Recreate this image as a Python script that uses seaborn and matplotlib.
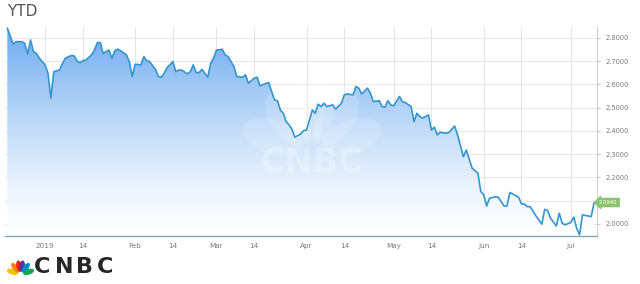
import numpy as np
import pandas as pd
import matplotlib
matplotlib.use("Agg")
import matplotlib.pyplot as plt
import matplotlib.dates as mdates
from matplotlib.patches import Ellipse
import seaborn as sns

# ---- data ----
dates = [
    "2018-12-19", "2018-12-21", "2018-12-22", "2018-12-24", "2018-12-25", "2018-12-26",
    "2018-12-27", "2018-12-28", "2018-12-29", "2018-12-30",
    "2019-01-01", "2019-01-02", "2019-01-03", "2019-01-04", "2019-01-06", "2019-01-07",
    "2019-01-08", "2019-01-10", "2019-01-11", "2019-01-12", "2019-01-13", "2019-01-14",
    "2019-01-15", "2019-01-17", "2019-01-18", "2019-01-19", "2019-01-20", "2019-01-21",
    "2019-01-23", "2019-01-24", "2019-01-25", "2019-01-26", "2019-01-27", "2019-01-29",
    "2019-01-30", "2019-01-31",
    "2019-02-01", "2019-02-03", "2019-02-04", "2019-02-05", "2019-02-06", "2019-02-08",
    "2019-02-09", "2019-02-10", "2019-02-11", "2019-02-12", "2019-02-14", "2019-02-15",
    "2019-02-16", "2019-02-17", "2019-02-19", "2019-02-20", "2019-02-21", "2019-02-22",
    "2019-02-23", "2019-02-24", "2019-02-26", "2019-02-27", "2019-02-28",
    "2019-03-01", "2019-03-03", "2019-03-04", "2019-03-05", "2019-03-07", "2019-03-08",
    "2019-03-10", "2019-03-11", "2019-03-12", "2019-03-14", "2019-03-15", "2019-03-16",
    "2019-03-18", "2019-03-19", "2019-03-20", "2019-03-21", "2019-03-22", "2019-03-23",
    "2019-03-24", "2019-03-25", "2019-03-26", "2019-03-27", "2019-03-28", "2019-03-30",
    "2019-03-31",
    "2019-04-01", "2019-04-02", "2019-04-03", "2019-04-04", "2019-04-05", "2019-04-06",
    "2019-04-07", "2019-04-08", "2019-04-10", "2019-04-11", "2019-04-13", "2019-04-14",
    "2019-04-15", "2019-04-17", "2019-04-18", "2019-04-19", "2019-04-20", "2019-04-22",
    "2019-04-23", "2019-04-24", "2019-04-26", "2019-04-27", "2019-04-28", "2019-04-29",
    "2019-04-30",
    "2019-05-01", "2019-05-03", "2019-05-04", "2019-05-05", "2019-05-07", "2019-05-08",
    "2019-05-09", "2019-05-10", "2019-05-11", "2019-05-13", "2019-05-14", "2019-05-15",
    "2019-05-16", "2019-05-17", "2019-05-19", "2019-05-20", "2019-05-22", "2019-05-23",
    "2019-05-25", "2019-05-26", "2019-05-28", "2019-05-30", "2019-05-31",
    "2019-06-01", "2019-06-02", "2019-06-03", "2019-06-05", "2019-06-06", "2019-06-08",
    "2019-06-09", "2019-06-10", "2019-06-11", "2019-06-13", "2019-06-14", "2019-06-15",
    "2019-06-16", "2019-06-17", "2019-06-19", "2019-06-21", "2019-06-22", "2019-06-23",
    "2019-06-24", "2019-06-26", "2019-06-27", "2019-06-28", "2019-06-29",
    "2019-07-01", "2019-07-02", "2019-07-03", "2019-07-04", "2019-07-05", "2019-07-07",
    "2019-07-08", "2019-07-09",
]
values = [
    2.842, 2.774, 2.784, 2.784, 2.777, 2.731,
    2.791, 2.741, 2.734, 2.713,
    2.684, 2.648, 2.541, 2.655, 2.662, 2.691,
    2.713, 2.724, 2.723, 2.701, 2.694, 2.702,
    2.705, 2.727, 2.748, 2.780, 2.780, 2.734,
    2.748, 2.712, 2.745, 2.752, 2.745, 2.727,
    2.698, 2.634,
    2.687, 2.684, 2.720, 2.702, 2.698, 2.665,
    2.634, 2.631, 2.648, 2.672, 2.698, 2.655,
    2.662, 2.662, 2.645, 2.655, 2.684, 2.651,
    2.651, 2.665, 2.631, 2.691, 2.713,
    2.748, 2.751, 2.727, 2.720, 2.677, 2.634,
    2.631, 2.641, 2.605, 2.627, 2.631, 2.594,
    2.605, 2.608, 2.569, 2.533, 2.530, 2.490,
    2.476, 2.440, 2.426, 2.407, 2.373, 2.387,
    2.401,
    2.404, 2.447, 2.490, 2.476, 2.515, 2.505,
    2.519, 2.505, 2.512, 2.494, 2.519, 2.555,
    2.559, 2.555, 2.591, 2.584, 2.559, 2.584,
    2.562, 2.526, 2.530, 2.505, 2.502, 2.530,
    2.512,
    2.508, 2.548, 2.526, 2.522, 2.505, 2.440,
    2.476, 2.462, 2.455, 2.469, 2.404, 2.416,
    2.383, 2.394, 2.390, 2.393, 2.421, 2.383,
    2.289, 2.318, 2.240, 2.218, 2.139,
    2.125, 2.077, 2.110, 2.117, 2.115, 2.077,
    2.077, 2.135, 2.129, 2.115, 2.086, 2.086,
    2.074, 2.074, 2.034, 1.999, 2.063, 2.057,
    2.025, 1.991, 2.046, 2.003, 1.996,
    2.006, 2.029, 1.981, 1.953, 2.039, 2.034,
    2.031, 2.092,
]
ytick_values = [2.0, 2.1, 2.2, 2.3, 2.4, 2.5, 2.6, 2.7, 2.8]
xtick_dates = ["2019-01-01", "2019-01-14", "2019-02-01", "2019-02-14", "2019-03-01",
               "2019-03-14", "2019-04-01", "2019-04-14", "2019-05-01", "2019-05-14",
               "2019-06-01", "2019-06-14", "2019-07-01"]
xtick_labels = ["2019", "14", "Feb", "14", "Mar", "14", "Apr", "14", "May", "14",
                "Jun", "14", "Jul"]
title_text = "YTD"
last_label = "2.0940"
logo_text = "CNBC"

df = pd.DataFrame({"date": pd.to_datetime(dates), "value": values})

sns.set_style("white")
plt.rcParams["font.family"] = ["DejaVu Sans"]

fig = plt.figure(figsize=(6.4, 2.84), dpi=100)
fig.patch.set_facecolor("white")
ax = fig.add_axes([5 / 640, 1 - 236 / 284, (597 - 5) / 640, (236 - 27) / 284])
ax.set_facecolor("white")

x0 = pd.Timestamp("2019-01-01") - pd.Timedelta(days=13.8)
x1 = pd.Timestamp("2019-01-01") + pd.Timedelta(days=190.0)
ymin, ymax = 1.948, 2.847
ax.set_xlim(x0, x1)
ax.set_ylim(ymin, ymax)

# grid
for yv in ytick_values:
    ax.axhline(yv, color="#e8e8e8", lw=0.8, zorder=0)
for d in xtick_dates:
    ax.axvline(pd.Timestamp(d), color="#e6e6e6", lw=0.8, zorder=0)

# gradient fill under the line
poly = ax.fill_between(df["date"], df["value"], ymin, facecolor="none", edgecolor="none")
grad = np.linspace(1, 0, 256).reshape(-1, 1)
top_col = np.array([0.42, 0.66, 0.94])
bot_col = np.array([1.0, 1.0, 1.0])
t = grad ** 1.35
img = top_col * t[..., None] + bot_col * (1 - t[..., None])
img = img.reshape(256, 1, 3)
im = ax.imshow(img, aspect="auto",
               extent=[mdates.date2num(x0), mdates.date2num(x1), ymin, ymax],
               origin="upper", zorder=1)
im.set_clip_path(poly.get_paths()[0], transform=ax.transData)

# faint watermark peacock + text
wm_base = (312 / 100, (284 - 150) / 100)
for ang in [160, 125, 97, 83, 55, 20]:
    r = 0.42
    cx = wm_base[0] + r * np.cos(np.radians(ang))
    cy = wm_base[1] + r * np.sin(np.radians(ang)) * 0.9
    e = Ellipse((cx, cy), 0.62, 0.34, angle=ang, transform=fig.dpi_scale_trans,
                facecolor="white", edgecolor="none", alpha=0.16, zorder=2)
    ax.add_artist(e)
fig.text(312 / 640, 1 - 163 / 284, logo_text, ha="center", va="center", fontsize=24,
         fontweight="bold", color="white", alpha=0.28, zorder=2)

# line
sns.lineplot(data=df, x="date", y="value", ax=ax, color="#3596cc", lw=1.2, zorder=3,
             legend=False)

# axes styling
for s in ["top", "left"]:
    ax.spines[s].set_visible(False)
ax.spines["right"].set_color("#d0d0d0")
ax.spines["right"].set_linewidth(0.8)
ax.spines["bottom"].set_color("#7fa3ae")
ax.spines["bottom"].set_linewidth(0.9)

ax.yaxis.tick_right()
ax.set_yticks(ytick_values)
ylabels = ["" if abs(v - 2.1) < 1e-9 else f"{v:.4f}" for v in ytick_values]
ax.set_yticklabels(ylabels, fontsize=4.8, color="#7a7a7a")
ax.tick_params(axis="y", length=2, pad=4, color="#cccccc")
ax.set_xticks(pd.to_datetime(xtick_dates))
ax.set_xticklabels(xtick_labels, fontsize=5.2, color="#7a7a7a")
ax.tick_params(axis="x", length=0, pad=5)
ax.set_xlabel("")
ax.set_ylabel("")

# last value badge
ax.annotate(last_label, xy=(1.0, values[-1]), xycoords=("axes fraction", "data"),
            xytext=(1.5, 0), textcoords="offset points", ha="left", va="center",
            fontsize=3.8, color="white", annotation_clip=False,
            bbox=dict(boxstyle="larrow,pad=0.3", fc="#8cc46f", ec="#8cc46f"))

# title
fig.text(7 / 640, 1 - 11 / 284, title_text, ha="left", va="center", fontsize=11,
         color="#555555")

# CNBC logo (bottom-left)
lx, ly = 0.205, 0.095
feather_cols = ["#f5c400", "#f58220", "#e1261c", "#6e2c8e", "#0089cf", "#13a54b"]
angles = [162, 128, 100, 80, 52, 18]
for col, ang in zip(feather_cols, angles):
    r = 0.085
    cx = lx + r * np.cos(np.radians(ang))
    cy = ly + r * np.sin(np.radians(ang))
    e = Ellipse((cx, cy), 0.115, 0.055, angle=ang, transform=fig.dpi_scale_trans,
                facecolor=col, edgecolor="none", zorder=5)
    fig.add_artist(e)
letter_x = [34, 55, 76, 97]
for ch, lxp in zip(logo_text, letter_x):
    fig.text(lxp / 640, 1 - 267 / 284, ch, ha="left", va="center", fontsize=16,
             fontweight="bold", color="#262626")

fig.savefig("out.png", dpi=100, facecolor="white")
